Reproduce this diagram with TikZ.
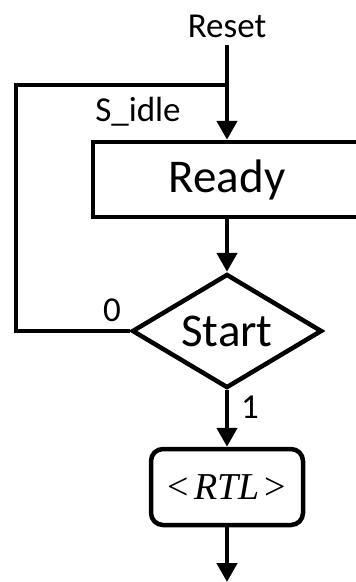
\documentclass[tikz,border=0pt]{standalone}
\usepackage{fontspec}
\setmainfont{Carlito}
\newfontfamily\rtlfont{Liberation Serif}
\usetikzlibrary{shapes.geometric,arrows.meta}
\begin{document}
\begin{tikzpicture}[x=1pt,y=-1pt,
  line/.style={line width=4.5pt},
  arr/.style={line width=4.5pt,-{Triangle[width=20pt,length=19pt]}},
  box/.style={draw,line width=4.5pt,inner sep=0pt},
  lbl/.style={inner sep=0pt,font=\fontsize{35}{40}\selectfont}]
\useasboundingbox (0,0) rectangle (356,582);
\clip (0,0) rectangle (356,582);
\node[lbl] (reset) at (227,26) {Reset};
\coordinate (rtop) at (227,45);
\node[box,minimum width=268pt,minimum height=75pt,font=\fontsize{47}{52}\selectfont] (ready) at (227,179.5) {Ready};
\node[lbl] (sidle) at (138,112) {S\_idle};
\node[box,diamond,shape aspect=1.65,minimum width=190pt,minimum height=114pt,font=\fontsize{47}{52}\selectfont] (start) at (227,331) {Start};
\node[box,rounded corners=12pt,minimum width=152pt,minimum height=76pt,font=\fontsize{38}{42}\selectfont\rtlfont] (rtl) at (227,487) {<\kern5pt\textit{RTL}\kern5pt>};
\coordinate (end) at (227,582);
\coordinate (c1) at (16,331);
\coordinate (c2) at (16,85);
\coordinate (c3) at (227,85);
\node[lbl] (zero) at (112,310) {0};
\node[lbl] (one) at (250,407) {1};
\draw[arr] (rtop) -- (ready.north);
\draw[line] (start.west) -- (c1) -- (c2) -- (c3);
\draw[arr] (ready.south) -- (start.north);
\draw[arr] (start.south) -- (rtl.north);
\draw[arr] (rtl.south) -- (end);
\end{tikzpicture}
\end{document}
